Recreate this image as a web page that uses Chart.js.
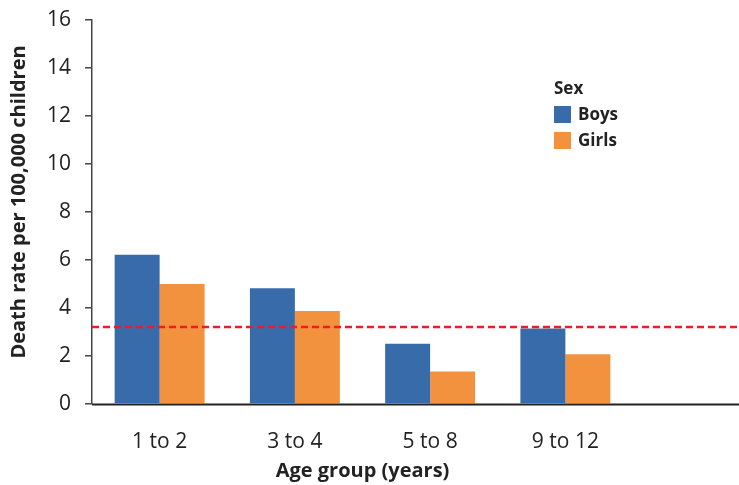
<!DOCTYPE html>
<html>
<head>
<meta charset="utf-8">
<script src="https://cdn.jsdelivr.net/npm/chart.js@4"></script>
<style>
  body { margin: 0; background: #fff; }
  #wrap { width: 739px; height: 485px; }
</style>
</head>
<body>
<div id="wrap"><canvas id="chart" width="739" height="485"></canvas></div>
<script>
// data
const ageGroups = ['1 to 2', '3 to 4', '5 to 8', '9 to 12'];
const boys = [6.22, 4.82, 2.51, 3.15];
const girls = [5.0, 3.88, 1.35, 2.07];
const averageRate = 3.21;
const yTicks = [0, 2, 4, 6, 8, 10, 12, 14, 16];

const BLUE = '#376ba9';
const ORANGE = '#f3923e';
const RED = '#ee1c25';
const INK = '#222';

// extra drawing: full width baseline, dashed average line, legend box, y title
const extras = {
  id: 'extras',
  afterDatasetsDraw(chart) {
    const {ctx, chartArea, scales} = chart;
    const y0 = scales.y.getPixelForValue(0);
    const yAvg = scales.y.getPixelForValue(averageRate);
    ctx.save();
    // baseline
    ctx.strokeStyle = INK;
    ctx.lineWidth = 2;
    ctx.beginPath();
    ctx.moveTo(chartArea.left, y0 + 0.5);
    ctx.lineTo(chart.width, y0 + 0.5);
    ctx.stroke();
    // average line
    ctx.strokeStyle = RED;
    ctx.lineWidth = 2.5;
    ctx.setLineDash([7, 4]);
    ctx.beginPath();
    ctx.moveTo(chartArea.left, yAvg);
    ctx.lineTo(chart.width, yAvg);
    ctx.stroke();
    ctx.setLineDash([]);
    // legend
    ctx.font = 'bold 17px "Open Sans"';
    ctx.fillStyle = INK;
    ctx.textBaseline = 'middle';
    ctx.textAlign = 'left';
    ctx.fillText('Sex', 554, 89);
    ctx.fillStyle = BLUE;
    ctx.fillRect(554, 106, 17, 17);
    ctx.fillStyle = ORANGE;
    ctx.fillRect(554, 132, 17, 17);
    ctx.fillStyle = INK;
    ctx.fillText('Boys', 578, 115);
    ctx.fillText('Girls', 578, 141);
    // y axis title
    ctx.translate(19, 202);
    ctx.rotate(-Math.PI / 2);
    ctx.textAlign = 'center';
    ctx.font = 'bold 20px "Open Sans"';
    ctx.fillText('Death rate per 100,000 children', 0, 0);
    ctx.restore();
  }
};

new Chart(document.getElementById('chart'), {
  type: 'bar',
  data: {
    labels: ageGroups,
    datasets: [
      {label: 'Boys', data: boys, backgroundColor: BLUE},
      {label: 'Girls', data: girls, backgroundColor: ORANGE}
    ]
  },
  options: {
    responsive: false,
    animation: false,
    layout: {padding: {top: 0, right: 106, bottom: 0, left: 0}},
    categoryPercentage: 0.665,
    barPercentage: 1,
    plugins: {
      legend: {display: false},
      tooltip: {enabled: false}
    },
    scales: {
      x: {
        afterFit: scale => { scale.height = 81; },
        grid: {display: false},
        border: {display: false},
        ticks: {color: INK, font: {family: 'Open Sans', size: 21}, padding: 17},
        title: {
          display: true,
          text: 'Age group (years)',
          color: INK,
          font: {family: 'Open Sans', size: 20, weight: 'bold'},
          padding: {top: 0, bottom: 2}
        }
      },
      y: {
        min: 0,
        max: 16,
        afterBuildTicks: scale => { scale.ticks = yTicks.map(v => ({value: v})); },
        afterFit: scale => { scale.width = 92; scale.paddingTop = 20; scale.paddingBottom = 0; },
        grid: {drawOnChartArea: false, tickLength: 7, color: '#444', lineWidth: 1.5},
        border: {color: '#444', width: 1.5},
        ticks: {color: INK, font: {family: 'Open Sans', size: 21}, padding: 14}
      }
    }
  },
  plugins: [extras]
});
</script>
</body>
</html>
